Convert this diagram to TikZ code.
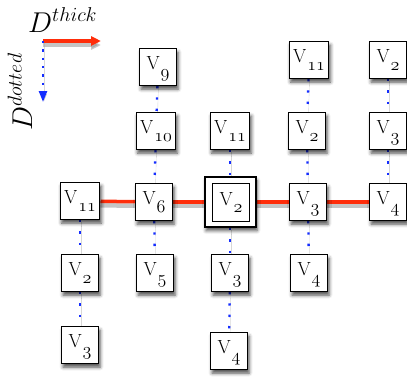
\documentclass[tikz,border=0pt]{standalone}
\usepackage{fix-cm}
\usepackage{fontspec}
\usetikzlibrary{shadows.blur,arrows.meta,backgrounds}

\definecolor{thickred}{RGB}{255,45,10}
\definecolor{dotblue}{RGB}{20,45,255}

% vertex label: upright V with old-style subscript digits
\newcommand{\vlab}[1]{V\kern1pt\raisebox{-7.5pt}{\fontsize{18}{18}\selectfont$\mathnormal{#1}$}}

\tikzset{
  x=1pt, y=-1pt,
  boxshadow/.style={blur shadow={shadow xshift=1.5pt, shadow yshift=-3.5pt,
      shadow blur radius=3.5pt, shadow opacity=70}},
  vbox/.style={draw, line width=1.2pt, fill=white,
    minimum width=37pt, minimum height=37pt, inner xsep=4pt,
    text height=13pt, text depth=8pt,
    font=\fontsize{19}{19}\selectfont, boxshadow},
  outerbox/.style={draw, line width=2pt, fill=white,
    minimum width=51pt, minimum height=50pt, boxshadow},
  innerbox/.style={draw, line width=0.8pt, fill=white,
    minimum width=37pt, minimum height=38pt, inner xsep=4pt,
    text height=13pt, text depth=8pt,
    font=\fontsize{19}{19}\selectfont},
  thickedge/.style={line width=3.5pt, draw=thickred,
    preaction={draw=black!45, line width=4.5pt, opacity=0.5,
      transform canvas={yshift=-4pt}}},
  dotedge/.style={line width=2.3pt, draw=dotblue, dash pattern=on 2.3pt off 9pt,
    preaction={draw=black!35, opacity=0.45,
      transform canvas={xshift=1pt, yshift=-2pt}}},
  legendlabel/.style={inner sep=0pt, font=\fontsize{27}{27}\selectfont},
}

\begin{document}
\begin{tikzpicture}
\useasboundingbox (0,0) rectangle (407,378);

% legend
\coordinate (o) at (43,41);
\coordinate (ex) at (101,41);
\coordinate (ey) at (43,102);
\node[legendlabel, anchor=base west] (lthick) at (28,32) {\scalebox{1.06}{$D^{thick}$}};
\node[legendlabel, anchor=base west, rotate=90] (ldotted) at (32,131) {\scalebox{1.06}{$D^{dotted}$}};
\draw[line width=3.5pt, draw=thickred, -{Triangle[length=10pt,width=9pt]},
  preaction={draw=black!45, line width=4.5pt, opacity=0.5, transform canvas={yshift=-4pt}}]
  (o) -- (ex);
\draw[line width=2.3pt, draw=dotblue, dash pattern=on 2.3pt off 6pt,
  -{Triangle[length=11pt,width=8pt]},
  preaction={draw=black!35, opacity=0.45, transform canvas={xshift=1pt, yshift=-2pt}}]
  (o) -- (ey);

% column 1
\node[vbox] (a1) at (80,201) {\vlab{11}};
\node[vbox] (a2) at (80,273) {\vlab{2}};
\node[vbox] (a3) at (80,345) {\vlab{3}};
% column 2
\node[vbox] (b1) at (158,67) {\vlab{9}};
\node[vbox] (b2) at (156,131) {\vlab{10}};
\node[vbox] (b3) at (154,202) {\vlab{6}};
\node[vbox] (b4) at (155,273) {\vlab{5}};
% column 3
\node[vbox] (c1) at (230,131) {\vlab{11}};
\node[outerbox] (c2o) at (230,202) {};
\node[innerbox] (c2) at (231,202.5) {\vlab{2}};
\node[vbox] (c3) at (230,273) {\vlab{3}};
\node[vbox] (c4) at (229,351) {\vlab{4}};
% column 4
\node[vbox] (d1) at (309,60) {\vlab{11}};
\node[vbox] (d2) at (307,131) {\vlab{2}};
\node[vbox] (d3) at (308,202) {\vlab{3}};
\node[vbox] (d4) at (309,273) {\vlab{4}};
% column 5
\node[vbox] (e1) at (388,60) {\vlab{2}};
\node[vbox] (e2) at (388,131) {\vlab{3}};
\node[vbox] (e3) at (388,202) {\vlab{4}};

\begin{scope}[on background layer]
  % thick horizontal chain
  \draw[thickedge] (a1) -- (b3);
  \draw[thickedge] (b3) -- (c2o);
  \draw[thickedge] (c2o) -- (d3);
  \draw[thickedge] (d3) -- (e3);
  % dotted vertical chains
  \draw[dotedge] (a1) -- (a2);
  \draw[dotedge] (a2) -- (a3);
  \draw[dotedge] (b1) -- (b2);
  \draw[dotedge] (b2) -- (b3);
  \draw[dotedge] (b3) -- (b4);
  \draw[dotedge] (c1) -- (c2o);
  \draw[dotedge] (c2o) -- (c3);
  \draw[dotedge] (c3) -- (c4);
  \draw[dotedge] (d1) -- (d2);
  \draw[dotedge] (d2) -- (d3);
  \draw[dotedge] (d3) -- (d4);
  \draw[dotedge] (e1) -- (e2);
  \draw[dotedge] (e2) -- (e3);
\end{scope}
\end{tikzpicture}
\end{document}
